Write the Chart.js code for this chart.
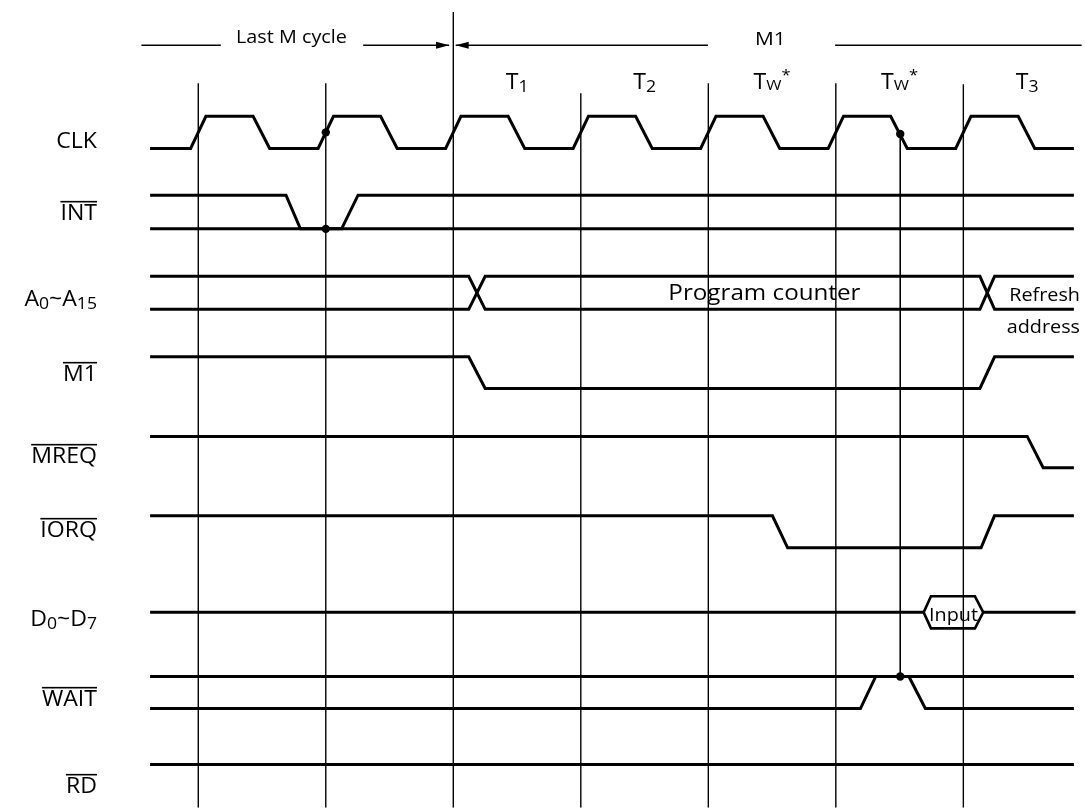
<!doctype html>
<html>
<head>
<meta charset="utf-8" />
<title>M1 cycle with wait states - timing</title>
<script src="https://cdn.jsdelivr.net/npm/chart.js@4.4.1/dist/chart.umd.min.js"></script>
<style>
	html, body { margin: 0; padding: 0; background: #fff; }
	#wrap { position: relative; width: 1086px; height: 812px; }
</style>
</head>
<body>
<div id="wrap"><canvas id="timing"></canvas></div>
<script>
// time unit = one clock period, t = 0 is the first guide line
const X_MIN = -1.522, X_MAX = 6.929;

// clock states and the guide lines between them
const stateNames = ["T{1}", "T{2}", "Tw*", "Tw*", "T{3}"];
const stateCenter = [2.5, 3.5, 4.5, 5.5, 6.5];
const guideTimes = [0, 1, 2, 3, 4, 5, 6];
const guideTop = [80, 80, 8, 90, 80, 80, 81];

// signal rows: [high level, low level]
const signalNames = ["CLK", "INT", "A{0}~A{15}", "M1", "MREQ", "IORQ", "D{0}~D{7}", "WAIT", "RD"];
const activeLow = [false, true, false, true, true, true, false, true, true];
const rowLevels = [
	[113.3, 145.7], [193, 227], [275, 308.3], [356.3, 388.3], [436.7, 468.3],
	[517, 549.3], [598.3, 630.7], [679.3, 711.7], [768.3, 800],
];
const labelBaseline = [148, 220, 306, 381, 463, 537, 626, 706, 793];

// waveforms: times (clock periods) and levels (1 high, 0 low)
const clkT = [-0.378, -0.06, 0.06, 0.43, 0.56, 0.94, 1.06, 1.43, 1.56, 1.94, 2.06, 2.43, 2.56,
	2.94, 3.06, 3.43, 3.56, 3.94, 4.06, 4.43, 4.56, 4.94, 5.06, 5.43, 5.56, 5.94, 6.06, 6.43, 6.56, 6.867];
const clkL = [0, 0, 1, 1, 0, 0, 1, 1, 0, 0, 1, 1, 0, 0, 1, 1, 0, 0, 1, 1, 0, 0, 1, 1, 0, 0, 1, 1, 0, 0];
const intT = [-0.378, 0.688, 0.801, 1.124, 1.253, 6.867];
const intL = [1, 1, 0, 0, 1, 1];
const intRefT = [-0.378, 6.867];
const intRefL = [0, 0];
const addrT = [-0.378, 2.121, 2.25, 6.13, 6.245, 6.867];
const addrL = [1, 1, 0, 0, 1, 1];
const addrL2 = [0, 0, 1, 1, 0, 0];
const m1T = [-0.378, 2.121, 2.25, 6.13, 6.245, 6.867];
const m1L = [1, 1, 0, 0, 1, 1];
const mreqT = [-0.378, 6.501, 6.626, 6.867];
const mreqL = [1, 1, 0, 0];
const iorqT = [-0.378, 4.503, 4.622, 6.139, 6.244, 6.867];
const iorqL = [1, 1, 0, 0, 1, 1];
const dataT = [-0.378, 5.689];
const dataT2 = [6.156, 6.88];
const inputT = [5.689, 5.746, 6.091, 6.156, 6.091, 5.746, 5.689];
const inputL = [0.5, 1, 1, 0.5, 0, 0, 0.5];
const waitRefT = [-0.378, 6.867];
const waitRefL = [1, 1];
const waitT = [-0.378, 5.193, 5.313, 5.573, 5.702, 6.867];
const waitL = [0, 0, 1, 1, 0, 0];
const rdT = [-0.378, 6.867];
const rdL = [1, 1];

// sampling points
const sampleT = [1, 1, 5.505, 5.505];
const sampleRow = [0, 1, 0, 7];
const sampleL = [0.5, 0, 0.45, 1];

// machine cycle header
const cycleNames = ["Last M cycle", "M1"];
const cycleCenter = [0.731, 4.486];
const lastCycleT = [[-0.446, 0.177], [1.293, 1.967]];
const m1CycleT = [[2.019, 3.997], [4.994, 6.929]];

const TEXT_SX = 1.1; // the scanned lettering is a little wider than Open Sans

function levelY(row, l) {
	const [hi, lo] = rowLevels[row];
	return lo + (hi - lo) * l;
}

function wave(row, ts, ls, width) {
	return {
		data: ts.map((t, i) => ({ x: t, y: levelY(row, ls[i]) })),
		borderColor: "#000",
		borderWidth: width || 3,
		pointRadius: 0,
		fill: false,
	};
}

function vline(t, top, bottom, width) {
	return {
		data: [{ x: t, y: top }, { x: t, y: bottom }],
		borderColor: "#000",
		borderWidth: width || 1.4,
		pointRadius: 0,
	};
}

const datasets = [];
guideTimes.forEach((t, i) => datasets.push(vline(t, guideTop[i], 812)));
datasets.push(vline(5.505, levelY(0, 0.45), levelY(7, 1), 1.6));
lastCycleT.concat(m1CycleT).forEach((seg) =>
	datasets.push({
		data: [{ x: seg[0], y: 41.5 }, { x: seg[1], y: 41.5 }],
		borderColor: "#000", borderWidth: 1.6, pointRadius: 0,
	}));

datasets.push(wave(0, clkT, clkL));
datasets.push(wave(1, intRefT, intRefL));
datasets.push(wave(1, intT, intL));
datasets.push(wave(2, addrT, addrL));
datasets.push(wave(2, addrT, addrL2));
datasets.push(wave(3, m1T, m1L));
datasets.push(wave(4, mreqT, mreqL));
datasets.push(wave(5, iorqT, iorqL));
datasets.push(wave(6, dataT, [0.5, 0.5]));
datasets.push(wave(6, dataT2, [0.5, 0.5]));
datasets.push(wave(6, inputT, inputL, 2.6));
datasets.push(wave(7, waitRefT, waitRefL));
datasets.push(wave(7, waitT, waitL));
datasets.push(wave(8, rdT, rdL));
datasets.push({
	data: sampleT.map((t, i) => ({ x: t, y: levelY(sampleRow[i], sampleL[i]) })),
	showLine: false,
	pointRadius: 4.2,
	pointBackgroundColor: "#000",
	pointBorderWidth: 0,
});

// one run of text, widened by TEXT_SX, left edge at x
function putText(ctx, s, x, y) {
	ctx.save();
	ctx.translate(x, y);
	ctx.scale(TEXT_SX, 1);
	ctx.fillText(s, 0, 0);
	ctx.restore();
}

// text with {subscript} parts, "right" or "center" aligned
function drawRich(ctx, text, x, y, size, align, overline) {
	const parts = [];
	text.split(/(\{[^}]*\})/).forEach((p) => {
		if (!p) return;
		if (p[0] === "{") parts.push({ s: p.slice(1, -1), sub: true });
		else parts.push({ s: p, sub: false });
	});
	const font = (sub) => (sub ? Math.round(size * 0.74) : size) + "px 'Open Sans', sans-serif";
	let w = 0;
	parts.forEach((p) => {
		ctx.font = font(p.sub);
		p.w = ctx.measureText(p.s).width * TEXT_SX;
		w += p.w;
	});
	let cx = align === "right" ? x - w : x - w / 2;
	const x0 = cx;
	parts.forEach((p) => {
		ctx.font = font(p.sub);
		putText(ctx, p.s, cx, p.sub ? y + 3 : y);
		cx += p.w;
	});
	if (overline) ctx.fillRect(x0, y - size * 0.72 - 4, w, 1.6);
}

function drawPlain(ctx, s, x, y, size, align) {
	ctx.font = size + "px 'Open Sans', sans-serif";
	const w = ctx.measureText(s).width * TEXT_SX;
	putText(ctx, s, align === "right" ? x - w : x - w / 2, y);
}

const textPlugin = {
	id: "timingText",
	afterDatasetsDraw(chart) {
		const ctx = chart.ctx;
		const xs = chart.scales.x, ys = chart.scales.y;
		ctx.save();
		ctx.fillStyle = "#000";
		ctx.textBaseline = "alphabetic";
		ctx.textAlign = "left";

		signalNames.forEach((n, i) => drawRich(ctx, n, 97, labelBaseline[i], 21, "right", activeLow[i]));

		// clock state names
		stateNames.forEach((n, i) => {
			const px = xs.getPixelForValue(stateCenter[i]);
			if (n === "Tw*") {
				ctx.font = "21px 'Open Sans', sans-serif";
				const wT = ctx.measureText("T").width * TEXT_SX;
				ctx.font = "15px 'Open Sans', sans-serif";
				const wW = ctx.measureText("W").width * TEXT_SX;
				const ws = ctx.measureText("*").width * TEXT_SX;
				const sx = px - (wT + wW + ws) / 2;
				ctx.font = "21px 'Open Sans', sans-serif";
				putText(ctx, "T", sx, 89);
				ctx.font = "15px 'Open Sans', sans-serif";
				putText(ctx, "W", sx + wT, 90);
				putText(ctx, "*", sx + wT + wW, 80);
			} else {
				drawRich(ctx, n, px, 89, 21, "center", false);
			}
		});

		// cycle header
		drawPlain(ctx, cycleNames[0], xs.getPixelForValue(cycleCenter[0]), 43, 18, "center");
		drawPlain(ctx, cycleNames[1], xs.getPixelForValue(cycleCenter[1]), 45, 19, "center");

		// arrow heads meeting at the M1 start line
		const ay = ys.getPixelForValue(41.5);
		const tipR = xs.getPixelForValue(lastCycleT[1][1]);
		const tipL = xs.getPixelForValue(m1CycleT[0][0]);
		ctx.beginPath();
		ctx.moveTo(tipR, ay); ctx.lineTo(tipR - 13, ay - 3.5); ctx.lineTo(tipR - 13, ay + 3.5);
		ctx.closePath(); ctx.fill();
		ctx.beginPath();
		ctx.moveTo(tipL, ay); ctx.lineTo(tipL + 13, ay - 3.5); ctx.lineTo(tipL + 13, ay + 3.5);
		ctx.closePath(); ctx.fill();

		// bus contents
		drawPlain(ctx, "Program counter", xs.getPixelForValue(4.44), 300, 22, "center");
		drawPlain(ctx, "Refresh", 1080, 301, 18, "right");
		drawPlain(ctx, "address", 1080, 333, 18, "right");
		drawPlain(ctx, "Input", xs.getPixelForValue((inputT[0] + inputT[3]) / 2), 621, 18, "center");
		ctx.restore();
	},
};

new Chart(document.getElementById("timing"), {
	type: "scatter",
	data: { datasets: datasets.map((d) => Object.assign({ showLine: true }, d)) },
	options: {
		responsive: true,
		maintainAspectRatio: false,
		animation: false,
		layout: { padding: 0 },
		plugins: { legend: { display: false }, tooltip: { enabled: false } },
		elements: { line: { tension: 0, borderCapStyle: "butt", borderJoinStyle: "miter" } },
		scales: {
			x: { type: "linear", min: X_MIN, max: X_MAX, display: false },
			y: { type: "linear", min: 0, max: 812, reverse: true, display: false },
		},
	},
	plugins: [textPlugin],
});
</script>
</body>
</html>
